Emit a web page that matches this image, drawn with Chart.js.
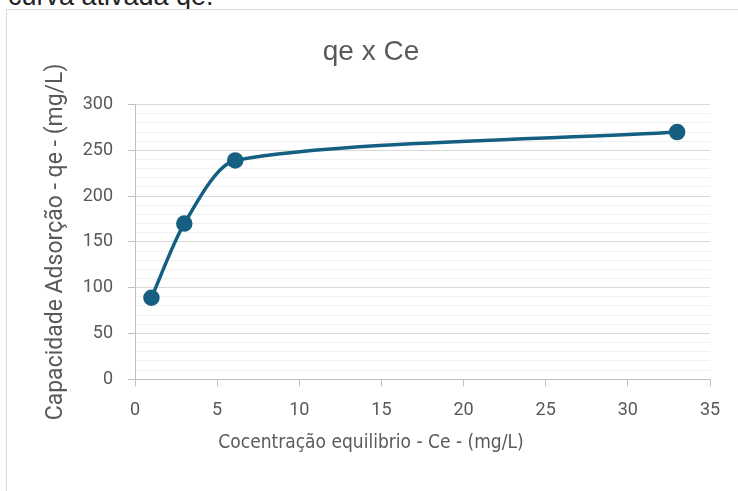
<!DOCTYPE html>
<html>
<head>
<meta charset="utf-8">
<script src="https://cdn.jsdelivr.net/npm/chart.js@4.4.1/dist/chart.umd.min.js"></script>
<style>
  html, body { margin: 0; padding: 0; width: 738px; height: 491px; overflow: hidden; background: #ffffff; }
  #topText { position: absolute; left: 8px; top: -17px; font: 27px 'Liberation Sans', Arial, sans-serif; line-height: 27px; color: #222222; white-space: nowrap; }
  #frame { position: absolute; left: 6px; top: 9px; width: 780px; height: 520px; border: 1px solid #d9d9d9; box-sizing: border-box; background: #ffffff; }
  #wrap { position: absolute; left: 0; top: 0; width: 758px; height: 491px; }
</style>
</head>
<body>
<div id="topText">curva ativada qe.</div>
<div id="frame"></div>
<div id="wrap"><canvas id="chart"></canvas></div>
<script>
// ---- data ----
const chartTitle = 'qe x Ce';
const xAxisTitle = 'Cocentração equilibrio - Ce - (mg/L)';
const yAxisTitle = 'Capacidade Adsorção - qe - (mg/L)';
const ceValues = [1, 3, 6.1, 33];          // Ce (mg/L)
const qeValues = [89, 170, 239, 270];      // qe (mg/L)
const xTickLabels = [0, 5, 10, 15, 20, 25, 30, 35];
const yTickLabels = [0, 50, 100, 150, 200, 250, 300];

const isMajorY = v => yTickLabels.some(t => Math.abs(t - v) < 1e-6);
const points = ceValues.map((x, i) => ({ x: x, y: qeValues[i] }));

new Chart(document.getElementById('chart'), {
  type: 'scatter',
  data: {
    datasets: [{
      data: points,
      showLine: true,
      borderColor: '#156082',
      backgroundColor: '#156082',
      pointBackgroundColor: '#156082',
      pointBorderColor: '#156082',
      borderWidth: 3.5,
      pointRadius: 6.5,
      pointHoverRadius: 6.5,
      tension: 0.25
    }]
  },
  options: {
    responsive: true,
    maintainAspectRatio: false,
    animation: false,
    events: [],
    layout: { padding: { left: 32, right: 48, top: 0, bottom: 37 } },
    plugins: {
      legend: { display: false },
      tooltip: { enabled: false },
      title: {
        display: true,
        text: chartTitle,
        color: '#595959',
        font: { family: "'Liberation Sans', Arial, sans-serif", size: 28, weight: 'normal' },
        padding: { top: 35, bottom: 36 }
      },
      subtitle: {
        display: true,
        position: 'bottom',
        text: xAxisTitle,
        color: '#595959',
        font: { family: "'DejaVu Sans Condensed', 'Liberation Sans', sans-serif", size: 19, weight: 'normal' },
        padding: { top: 0, bottom: 0 }
      }
    },
    scales: {
      x: {
        type: 'linear',
        min: xTickLabels[0],
        max: xTickLabels[xTickLabels.length - 1],
        afterBuildTicks: s => { s.ticks = xTickLabels.map(v => ({ value: v })); },
        ticks: {
          color: '#595959',
          font: { family: 'Roboto, sans-serif', size: 18 },
          padding: 13,
          maxRotation: 0,
          autoSkip: false
        },
        grid: { drawOnChartArea: false, drawTicks: true, tickLength: 7, tickColor: '#bfbfbf' },
        border: { color: '#bfbfbf', width: 1 },
        afterFit: s => { s.height = 52; }
      },
      y: {
        type: 'linear',
        min: yTickLabels[0],
        max: yTickLabels[yTickLabels.length - 1],
        ticks: {
          stepSize: 10,
          maxTicksLimit: 100,
          autoSkip: false,
          padding: 15,
          color: '#595959',
          font: { family: 'Roboto, sans-serif', size: 18 },
          callback: v => isMajorY(v) ? String(v) : ''
        },
        grid: {
          color: c => isMajorY(c.tick.value) ? '#d9d9d9' : '#f0f0f0',
          tickColor: c => isMajorY(c.tick.value) ? '#bfbfbf' : 'rgba(0,0,0,0)',
          tickLength: 7,
          lineWidth: 1
        },
        border: { color: '#bfbfbf', width: 1 },
        title: {
          display: true,
          text: yAxisTitle,
          color: '#595959',
          font: { family: 'Roboto, sans-serif', size: 23, weight: 'normal' },
          padding: { top: 10, bottom: 0 }
        },
        afterFit: s => { s.width = 103; }
      }
    }
  }
});
</script>
</body>
</html>
